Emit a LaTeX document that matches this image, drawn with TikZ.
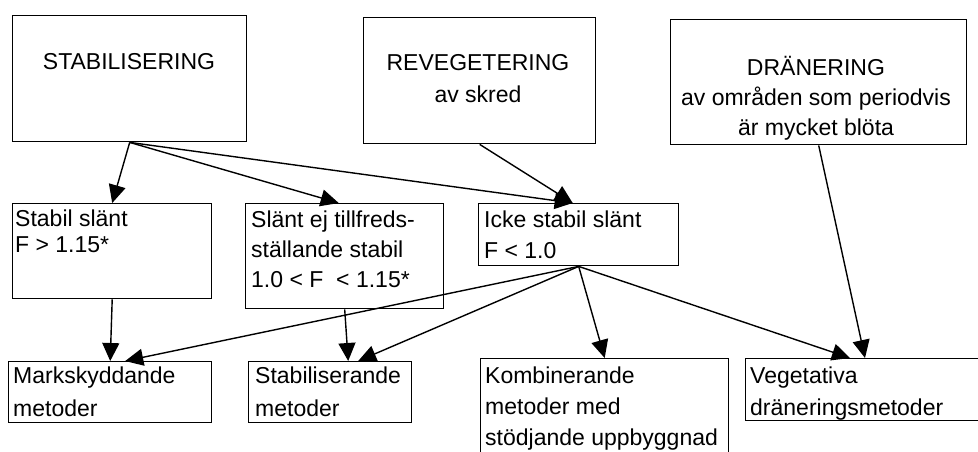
\documentclass[tikz,border=0pt]{standalone}
\usepackage{fontspec}
\setmainfont{Liberation Sans}
\usetikzlibrary{arrows.meta,positioning}

\tikzset{
  box/.style={draw, line width=1.4pt, inner sep=0pt, anchor=north west},
  txt/.style={inner sep=0pt, anchor=base west, align=left},
  head/.style={inner sep=0pt, anchor=base, align=center},
  arr/.style={line width=1.4pt, -{Triangle[length=18pt,width=17pt]}}
}

\begin{document}
\begin{tikzpicture}[x=1pt, y=-1pt]
  \useasboundingbox (0,0) rectangle (978,451);
  \clip (0,0) rectangle (978,451);

  % top row
  \node[box, minimum width=234pt, minimum height=126pt] (stab) at (12,15) {};
  \node[box, minimum width=232pt, minimum height=126pt] (reveg) at (363,17) {};
  \node[box, minimum width=296pt, minimum height=125pt] (dran) at (670,19) {};

  % texts are placed by the baseline of their last line
  \node[head, font=\fontsize{23}{32}\selectfont] (stab-t) at (129,69) {STABILISERING};
  \node[head, font=\fontsize{23}{32}\selectfont] (reveg-t) at (478,102) {REVEGETERING\\av skred};
  \node[head, font=\fontsize{23}{30}\selectfont] (dran-t) at (816,135)
    {DRÄNERING\\av områden som periodvis\\är mycket blöta};

  % middle row
  \node[box, minimum width=199pt, minimum height=95pt] (stabil) at (12,203) {};
  \node[box, minimum width=198pt, minimum height=105pt] (slant) at (245,203) {};
  \node[box, minimum width=200pt, minimum height=62pt] (icke) at (478,203) {};

  \node[txt, font=\fontsize{23}{26}\selectfont] (stabil-t) at (15,252) {Stabil slänt\\F > 1.15*};
  \node[txt, font=\fontsize{23}{30}\selectfont] (slant-t) at (251,287)
    {Slänt ej tillfreds-\\ställande stabil\\1.0 < F~~< 1.15*};
  \node[txt, font=\fontsize{23}{31}\selectfont] (icke-t) at (484,258) {Icke stabil slänt\\F < 1.0};

  % bottom row
  \node[box, minimum width=203pt, minimum height=61pt] (mark) at (8,361) {};
  \node[box, minimum width=163pt, minimum height=61pt] (stabm) at (248,361) {};
  \node[box, minimum width=248pt, minimum height=110pt] (komb) at (480,358) {};
  \node[box, minimum width=245pt, minimum height=62pt] (veg) at (745,358) {};

  \node[txt, font=\fontsize{23}{33}\selectfont] (mark-t) at (13,416) {Markskyddande\\metoder};
  \node[txt, font=\fontsize{23}{33}\selectfont] (stabm-t) at (255,416) {Stabiliserande\\metoder};
  \node[txt, font=\fontsize{23}{31}\selectfont] (komb-t) at (485,445)
    {Kombinerande\\metoder med\\stödjande uppbyggnad};
  \node[txt, font=\fontsize{23}{32}\selectfont] (veg-t) at (750,415) {Vegetativa\\dräneringsmetoder};

  % arrows
  \draw[arr] (stab.south) -- (stabil.north);
  \draw[arr] (stab.south) -- ([xshift=-6pt]slant.north);
  \draw[arr] (stab.south) -- ([xshift=-6pt]icke.north);
  \draw[arr] (reveg.south) -- ([xshift=-6pt]icke.north);
  \draw[arr] (dran.south) -- ([xshift=120pt]veg.north west);
  \draw[arr] (stabil.south) -- (mark.north);
  \draw[arr] (slant.south) -- ([xshift=18pt]stabm.north);
  \draw[arr] (icke.south) -- ([xshift=15pt]mark.north);
  \draw[arr] (icke.south) -- ([xshift=28pt]stabm.north);
  \draw[arr] (icke.south) -- (komb.north);
  \draw[arr] (icke.south) -- ([xshift=105pt]veg.north west);
\end{tikzpicture}
\end{document}
